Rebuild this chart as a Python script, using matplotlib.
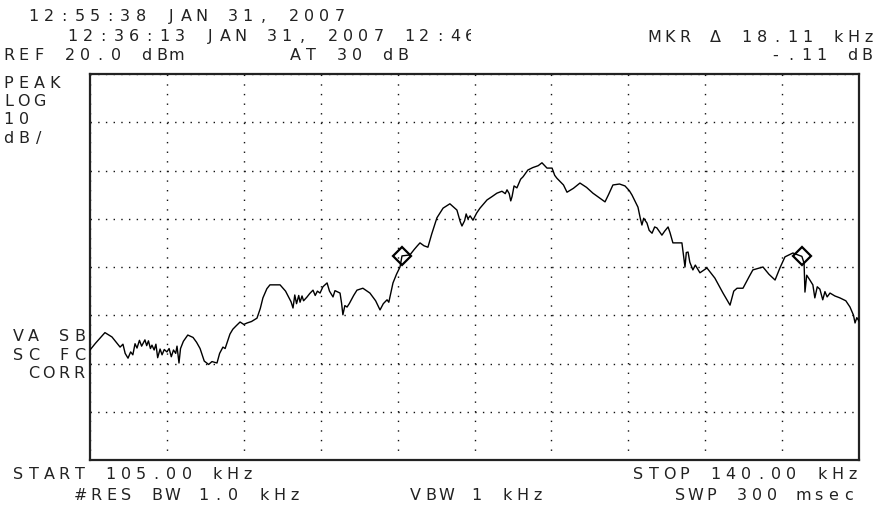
import numpy as np
import matplotlib
matplotlib.use('Agg')
import matplotlib.pyplot as plt
from matplotlib.transforms import Bbox

W, H = 876, 508

# analyzer settings
start_khz, stop_khz = 105.0, 140.0
ref_dbm = 20.0
db_per_div = 10
n_xdiv, n_ydiv = 10, 8

# trace (kHz, dBm)
freq = [105.00, 105.25, 105.68, 106.00, 106.37, 106.50, 106.60, 106.73, 106.85, 106.95,
        107.05, 107.14, 107.25, 107.35, 107.50, 107.58, 107.66, 107.75, 107.82, 107.92,
        108.00, 108.08, 108.19, 108.28, 108.38, 108.50, 108.60, 108.70, 108.80, 108.90,
        108.96, 109.05, 109.12, 109.25, 109.45, 109.69, 109.85, 110.01, 110.20, 110.40,
        110.55, 110.78, 110.90, 111.05, 111.15, 111.37, 111.50, 111.65, 111.83, 112.00,
        112.15, 112.35, 112.60, 112.75, 112.87, 113.05, 113.19, 113.65, 113.90, 114.05,
        114.15, 114.24, 114.32, 114.40, 114.50, 114.56, 114.65, 114.72, 114.88, 115.00,
        115.15, 115.25, 115.35, 115.47, 115.60, 115.79, 115.90, 116.06, 116.15, 116.38,
        116.45, 116.51, 116.60, 116.70, 116.80, 117.00, 117.15, 117.42, 117.74, 118.00,
        118.20, 118.35, 118.52, 118.60, 118.79, 118.95, 119.11, 119.20, 119.56, 119.75,
        119.90, 120.02, 120.20, 120.38, 120.55, 120.79, 121.07, 121.38, 121.70, 121.85,
        121.93, 122.05, 122.12, 122.20, 122.30, 122.43, 122.60, 122.75, 123.07, 123.30,
        123.52, 123.75, 123.90, 123.98, 124.08, 124.15, 124.21, 124.30, 124.43, 124.60,
        124.71, 124.93, 125.15, 125.40, 125.57, 125.80, 126.03, 126.15, 126.25, 126.40,
        126.55, 126.71, 127.00, 127.30, 127.60, 127.89, 128.20, 128.44, 128.60, 128.80,
        129.10, 129.35, 129.55, 129.67, 129.85, 129.94, 130.05, 130.12, 130.20, 130.35,
        130.45, 130.58, 130.70, 130.80, 131.03, 131.15, 131.31, 131.40, 131.53, 131.94,
        132.08, 132.14, 132.22, 132.30, 132.44, 132.55, 132.76, 133.08, 133.44, 133.81,
        134.13, 134.30, 134.45, 134.72, 135.00, 135.17, 135.40, 135.63, 135.90, 136.18,
        136.40, 136.63, 136.99, 137.40, 137.50, 137.54, 137.62, 137.75, 137.90, 137.99,
        138.10, 138.22, 138.35, 138.45, 138.55, 138.68, 138.90, 139.13, 139.40, 139.59,
        139.75, 139.82, 139.90, 140.00]
level = [-37.2, -35.8, -33.6, -34.5, -36.6, -36.0, -37.9, -38.9, -37.6, -38.2,
         -35.9, -36.8, -35.2, -36.4, -35.1, -36.3, -35.3, -36.9, -36.2, -37.2,
         -36.0, -38.8, -37.0, -38.2, -37.1, -37.6, -36.9, -38.6, -37.2, -37.9,
         -36.4, -39.9, -36.9, -35.4, -34.1, -34.6, -35.6, -36.9, -39.5, -40.2,
         -39.6, -39.9, -37.9, -36.6, -36.9, -33.9, -32.9, -32.2, -31.4, -31.9,
         -31.6, -31.3, -30.6, -28.6, -26.4, -24.5, -23.7, -23.7, -25.0, -26.3,
         -27.2, -28.5, -25.8, -27.6, -25.9, -27.3, -26.0, -27.0, -26.2, -25.5,
         -24.8, -25.9, -25.0, -25.4, -24.1, -23.3, -25.0, -26.2, -24.9, -25.4,
         -27.5, -29.9, -28.0, -28.3, -27.6, -25.9, -24.8, -24.4, -25.4, -27.0,
         -28.9, -27.6, -26.8, -27.3, -23.3, -21.5, -20.0, -17.7, -17.5, -16.4,
         -15.6, -15.0, -15.6, -15.9, -13.2, -9.8, -7.8, -6.9, -8.2, -10.6,
         -11.5, -10.4, -9.0, -10.0, -9.4, -10.3, -8.8, -7.8, -6.1, -5.4,
         -4.7, -4.3, -4.8, -4.0, -4.8, -6.3, -5.4, -3.2, -3.6, -1.8,
         -1.3, 0.1, 0.6, 1.0, 1.6, 0.5, 0.5, -1.0, -1.6, -2.3,
         -3.0, -4.5, -3.7, -2.6, -3.5, -4.7, -5.7, -6.5, -5.0, -3.0,
         -2.8, -3.2, -4.2, -5.1, -6.8, -7.6, -10.0, -11.3, -9.9, -10.9,
         -12.4, -13.0, -11.7, -11.9, -13.4, -12.6, -11.7, -12.9, -15.0, -15.0,
         -20.0, -17.0, -16.9, -19.0, -20.6, -19.6, -21.2, -20.2, -22.3, -25.4,
         -27.9, -25.0, -24.4, -24.4, -22.0, -20.6, -20.3, -20.0, -21.5, -22.7,
         -20.2, -17.9, -17.1, -17.8, -19.2, -25.2, -21.7, -22.6, -23.7, -26.4,
         -24.1, -24.6, -26.8, -25.1, -26.2, -25.4, -26.0, -26.4, -27.0, -28.3,
         -30.0, -31.6, -30.5, -31.2]

# delta marker pair
mkr_freq = [119.20, 137.40]
mkr_level = [-17.7, -17.8]

fig = plt.figure(figsize=(W / 100, H / 100), dpi=100)
fig.patch.set_facecolor('white')
ax = fig.add_axes([90 / W, 1 - 460 / H, 769 / W, 386 / H])

ax.plot(freq, level, color='black', lw=1.0, zorder=3)
ax.plot(mkr_freq, mkr_level, 'D', ms=9, mfc='none', mec='black', mew=1.6, zorder=4)

ax.set_xlim(start_khz, stop_khz)
ax.set_ylim(ref_dbm - n_ydiv * db_per_div, ref_dbm)
ax.set_xticks(np.linspace(start_khz, stop_khz, n_xdiv + 1))
ax.set_yticks(np.linspace(ref_dbm - n_ydiv * db_per_div, ref_dbm, n_ydiv + 1))
ax.tick_params(length=0, labelbottom=False, labelleft=False)

# dotted graticule: 10 dots per x division, 5 per y division
ax.yaxis.grid(True, color='#111', lw=1.0, linestyle=(0, (1, 4.54)))
ax.xaxis.grid(True, color='#111', lw=1.0, linestyle=(0, (1, 5.92)))
for s in ax.spines.values():
    s.set_linewidth(1.6)
    s.set_color('#222')

PITCH = 15.3


def hp(x, y, s, clip_x=None):
    # instrument font: fixed character cell
    for i, ch in enumerate(s):
        if ch == ' ':
            continue
        t = fig.text((x + 5.5 + i * PITCH) / W, 1 - y / H, ch, ha='center', va='baseline',
                     fontsize=11.5, family='DejaVu Sans', color='#222')
        if clip_x is not None:
            t.set_clip_box(Bbox([[0, 0], [clip_x, H]]))
            t.set_clip_on(True)


hp(28, 21, '12:55:38 JAN 31, 2007')
hp(67, 41, '12:36:13 JAN 31, 2007 12:46', clip_x=471)
hp(3, 59.5, 'REF 20.0 dBm')
hp(290, 59.5, 'AT 30 dB')
hp(649, 42, 'MKR Δ 18.11 kHz')
hp(770, 60, '-.11 dB')

hp(3, 87.5, 'PEAK')
hp(3, 106, 'LOG')
hp(3, 124.5, '10')
hp(3, 143, 'dB/')

hp(13, 341, 'VA SB')
hp(13, 359.5, 'SC FC')
hp(28, 378, 'CORR')

hp(13, 479, 'START 105.00 kHz')
hp(75, 500, '#RES BW 1.0 kHz')
hp(410, 500, 'VBW 1 kHz')
hp(633, 479, 'STOP 140.00 kHz')
hp(675, 500, 'SWP 300 msec')

fig.savefig('out.png', dpi=100)
